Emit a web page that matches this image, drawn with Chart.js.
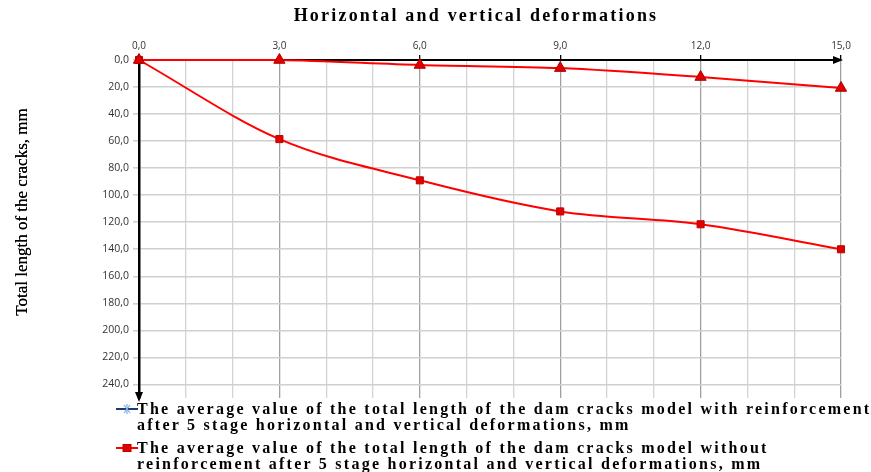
<!DOCTYPE html>
<html>
<head>
<meta charset="utf-8">
<script src="https://cdn.jsdelivr.net/npm/chart.js@4"></script>
<style>
  body { margin: 0; background: #fff; }
  #wrap { position: relative; width: 871px; height: 472px; overflow: hidden; }
  #chart { position: absolute; left: 0; top: 0; }
  #title {
    position: absolute; left: 0; width: 952px; top: 5px; text-align: center;
    font: bold 18px "Liberation Serif", serif; letter-spacing: 2.2px; color: #000;
  }
  #ytitle {
    position: absolute; left: -128px; top: 202px; width: 300px; height: 20px; line-height: 20px;
    text-align: center; transform: rotate(-90deg); transform-origin: 150px 10px;
    font: 17px "Liberation Serif", serif; color: #000; text-shadow: 0 0 0.4px #000;
  }
  .leg {
    position: absolute; left: 116px; font: bold 16px "Liberation Serif", serif;
    letter-spacing: 2.25px; line-height: 15.5px; color: #000; white-space: nowrap;
  }
  .leg svg { position: absolute; left: 0; top: 2px; }
  .leg div { padding-left: 21px; }
</style>
</head>
<body>
<div id="wrap">
  <canvas id="chart" width="871" height="472"></canvas>
  <div id="title">Horizontal and vertical deformations</div>
  <div id="ytitle">Total length of the cracks, mm</div>
  <div class="leg" style="top:401px">
    <svg width="22" height="12"><line x1="0" y1="6" x2="22" y2="6" stroke="#1f3a6e" stroke-width="2"/>
      <g stroke="#7fb2e0" stroke-width="1.2"><line x1="8" y1="2" x2="14" y2="10"/><line x1="14" y1="2" x2="8" y2="10"/><line x1="11" y1="1" x2="11" y2="11"/></g></svg>
    <div>The average value of the total length of the dam cracks model with reinforcement<br>after 5 stage horizontal and vertical deformations, mm</div>
  </div>
  <div class="leg" style="top:440px">
    <svg width="22" height="12"><line x1="0" y1="6" x2="22" y2="6" stroke="#ff0000" stroke-width="2"/>
      <rect x="7" y="2.5" width="8" height="7" fill="#e00000" stroke="#c00000"/></svg>
    <div>The average value of the total length of the dam cracks model without<br>reinforcement after 5 stage horizontal and vertical deformations, mm</div>
  </div>
</div>
<script>
// stages of deformation (horizontal axis)
const stages = [0, 3, 6, 9, 12, 15];
// total crack length, mm
const withReinforcement = [0, 0, 3.7, 6, 12.6, 20.7];
const withoutReinforcement = [0, 58.5, 89, 112, 121.5, 140];

function fmt(v) {
  return v.toFixed(1).replace(".", ",");
}

function toPoints(values) {
  return stages.map((s, i) => ({ x: s, y: values[i] }));
}

// arrows at the ends of both axes
const arrows = {
  id: "axisArrows",
  afterDraw(chart) {
    const { ctx, chartArea } = chart;
    ctx.save();
    ctx.fillStyle = "#000";
    ctx.beginPath();
    ctx.moveTo(chartArea.right + 2, chartArea.top);
    ctx.lineTo(chartArea.right - 8, chartArea.top - 4);
    ctx.lineTo(chartArea.right - 8, chartArea.top + 4);
    ctx.fill();
    ctx.beginPath();
    ctx.moveTo(chartArea.left, chartArea.bottom + 4);
    ctx.lineTo(chartArea.left - 4, chartArea.bottom - 6);
    ctx.lineTo(chartArea.left + 4, chartArea.bottom - 6);
    ctx.fill();
    ctx.restore();
  },
};

const ctx = document.getElementById("chart");
new Chart(ctx, {
  type: "line",
  data: {
    datasets: [
      {
        label: "with reinforcement",
        data: toPoints(withReinforcement),
        borderColor: "#ff0000",
        borderWidth: 2,
        pointStyle: "triangle",
        pointRadius: 6.5,
        pointBackgroundColor: "#e00000",
        pointBorderColor: "#b00000",
        pointBorderWidth: 1,
        tension: 0.3,
        clip: false,
      },
      {
        label: "without reinforcement",
        data: toPoints(withoutReinforcement),
        borderColor: "#ff0000",
        borderWidth: 2,
        pointStyle: "rect",
        pointRadius: 5,
        pointBackgroundColor: "#e00000",
        pointBorderColor: "#c00000",
        pointBorderWidth: 1,
        cubicInterpolationMode: "monotone",
        clip: false,
      },
    ],
  },
  options: {
    responsive: false,
    animation: false,
    layout: { padding: { left: 0, right: 30, top: 0, bottom: 74 } },
    plugins: {
      legend: { display: false },
      tooltip: { enabled: false },
    },
    scales: {
      x: {
        type: "linear",
        position: "top",
        min: 0,
        max: 15,
        afterFit: (scale) => { scale.height = 60; },
        ticks: {
          stepSize: 1,
          autoSkip: false,
          maxRotation: 0,
          padding: 3,
          color: "#333",
          font: { family: "Open Sans", size: 10 },
          callback: (v) => (v % 3 === 0 ? fmt(v) : ""),
        },
        grid: {
          color: (c) => (c.tick && c.tick.value % 3 === 0 ? "#a0a0a0" : "#d4d4d4"),
          lineWidth: 1.3,
          tickLength: 5,
          tickColor: (c) => (c.tick && c.tick.value % 3 === 0 ? "#000" : "rgba(0,0,0,0)"),
        },
        border: { color: "#000", width: 2 },
      },
      y: {
        reverse: true,
        min: 0,
        max: 250,
        afterFit: (scale) => { scale.width = 139; },
        afterBuildTicks: (scale) => {
          scale.ticks = scale.ticks.filter((t) => t.value % 20 === 0);
        },
        ticks: {
          stepSize: 20,
          padding: 4,
          color: "#333",
          font: { family: "Open Sans", size: 10.5 },
          callback: (v) => fmt(v),
        },
        grid: {
          color: "#d0d0d0",
          lineWidth: 1.6,
          tickLength: 6,
        },
        border: { color: "#000", width: 2.5 },
      },
    },
  },
  plugins: [arrows],
});
</script>
</body>
</html>
